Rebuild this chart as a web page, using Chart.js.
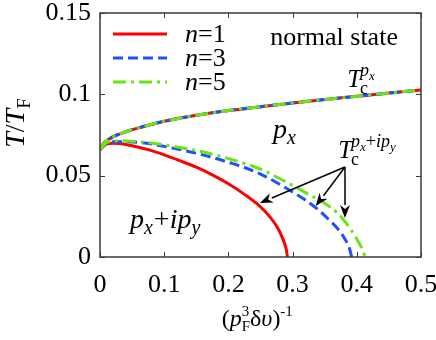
<!DOCTYPE html>
<html><head><meta charset="utf-8">
<script src="https://cdn.jsdelivr.net/npm/chart.js@4.4.1/dist/chart.umd.min.js"></script>
<style>html,body{margin:0;padding:0;background:#fff;}#wrap{width:436px;height:340px;}</style>
</head><body><div id="wrap"><canvas id="c" width="436" height="340"></canvas></div>
<script>
// ---- data ----
const xTicks = [0, 0.1, 0.2, 0.3, 0.4, 0.5];
const xTickLabels = ['0', '0.1', '0.2', '0.3', '0.4', '0.5'];
const yTicks = [0, 0.05, 0.1, 0.15];
const yTickLabels = ['0', '0.05', '0.1', '0.15'];
const seriesNames = ['1', '3', '5'];

// upper branch T_c^{px} (same for all n)
const upperX = [0, 0.005, 0.01, 0.02, 0.04, 0.06, 0.08, 0.10, 0.15, 0.20, 0.25, 0.30, 0.35, 0.40, 0.45, 0.50];
const upperY = [0.0660, 0.0695, 0.0713, 0.0738, 0.0770, 0.0794, 0.0815, 0.0834, 0.0871, 0.0900, 0.0924, 0.0947, 0.0968, 0.0988, 0.1008, 0.1027];

// lower branch T_c^{px+ipy}
const lowerX_n1 = [0, 0.01, 0.02, 0.03, 0.05, 0.075, 0.10, 0.125, 0.15, 0.175, 0.20, 0.225, 0.25, 0.265, 0.275, 0.285, 0.29, 0.292];
const lowerY_n1 = [0.0660, 0.0693, 0.0700, 0.0698, 0.0684, 0.0660, 0.0628, 0.0591, 0.0552, 0.0505, 0.0450, 0.0385, 0.0308, 0.0245, 0.0190, 0.0110, 0.0050, 0.0];
const lowerX_n3 = [0, 0.01, 0.02, 0.04, 0.06, 0.08, 0.10, 0.125, 0.15, 0.175, 0.20, 0.225, 0.25, 0.275, 0.30, 0.32, 0.34, 0.355, 0.37, 0.38, 0.388, 0.392];
const lowerY_n3 = [0.0660, 0.0700, 0.0708, 0.0708, 0.0704, 0.0695, 0.0680, 0.0660, 0.0638, 0.0612, 0.0582, 0.0550, 0.0510, 0.0458, 0.0400, 0.0350, 0.0290, 0.0235, 0.0175, 0.0120, 0.0060, 0.0];
const lowerX_n5 = [0, 0.01, 0.02, 0.03, 0.05, 0.075, 0.10, 0.125, 0.15, 0.175, 0.20, 0.225, 0.25, 0.275, 0.30, 0.325, 0.35, 0.37, 0.385, 0.40, 0.41, 0.413];
const lowerY_n5 = [0.0660, 0.0702, 0.0712, 0.0715, 0.0712, 0.0703, 0.0690, 0.0673, 0.0655, 0.0632, 0.0605, 0.0575, 0.0540, 0.0492, 0.0440, 0.0385, 0.0330, 0.0270, 0.0200, 0.0110, 0.0035, 0.0];

// arrow from label to the three curves (data coords)
const arrowFrom = [0.3816, 0.0553];
const arrowTipsX = [0.249, 0.336, 0.3816];
const arrowTipsY = [0.0332, 0.0313, 0.0240];

// ---- styles ----
const COLORS = ['rgb(255,0,0)', 'rgb(30,80,255)', 'rgb(105,228,20)'];
const DASHES = [[], [10, 5], [13, 5, 3, 5]];
const SERIF = '"Liberation Serif", "Times New Roman", serif';

const pts = (xs, ys) => xs.map((x, i) => ({ x: x, y: ys[i] }));
const lowers = [[lowerX_n1, lowerY_n1], [lowerX_n3, lowerY_n3], [lowerX_n5, lowerY_n5]];
const datasets = [];
seriesNames.forEach((n, i) => {
  const common = {
    borderColor: COLORS[i], backgroundColor: COLORS[i], borderWidth: 3,
    borderDash: DASHES[i], pointRadius: 0, showLine: true, fill: false,
    cubicInterpolationMode: 'monotone', order: 2 - i
  };
  datasets.push(Object.assign({ label: 'n=' + n, data: pts(upperX, upperY) }, common));
  datasets.push(Object.assign({ label: 'n=' + n + ' lower', data: pts(lowers[i][0], lowers[i][1]) }, common));
});

function setFont(ctx, f, s) { ctx.font = (f === 'i' ? 'italic ' : '') + s + 'px ' + SERIF; }
function measureParts(ctx, parts) {
  let w = 0;
  parts.forEach(p => {
    if (p.stack) {
      p.w = Math.max(measureParts(ctx, p.stack[0]), measureParts(ctx, p.stack[1]));
    } else { setFont(ctx, p.f, p.s); p.w = ctx.measureText(p.t).width; }
    w += p.w + (p.k || 0);
  });
  return w;
}
function drawParts(ctx, x, y, parts) {
  let cx = x;
  parts.forEach(p => {
    if (p.stack) { drawParts(ctx, cx, y, p.stack[0]); drawParts(ctx, cx, y, p.stack[1]); }
    else { setFont(ctx, p.f, p.s); ctx.fillText(p.t, cx, y + (p.dy || 0)); }
    cx += p.w + (p.k || 0);
  });
}
function rich(ctx, x, y, parts, align) {
  const w = measureParts(ctx, parts);
  drawParts(ctx, align === 'center' ? x - w / 2 : x, y, parts);
}

const decor = {
  id: 'decor',
  afterDatasetsDraw(chart) {
    const { ctx, chartArea: a, scales } = chart;
    const X = v => scales.x.getPixelForValue(v), Y = v => scales.y.getPixelForValue(v);
    ctx.save();
    // frame
    ctx.strokeStyle = '#3a3a3a'; ctx.lineWidth = 1.5; ctx.setLineDash([]);
    ctx.strokeRect(a.left, a.top, a.right - a.left, a.bottom - a.top);
    ctx.lineWidth = 1;
    ctx.beginPath();
    xTicks.forEach(v => { const px = Math.round(X(v)) + 0.5;
      ctx.moveTo(px, a.bottom); ctx.lineTo(px, a.bottom - 5);
      ctx.moveTo(px, a.top); ctx.lineTo(px, a.top + 5); });
    yTicks.forEach(v => { const py = Math.round(Y(v)) + 0.5;
      ctx.moveTo(a.left, py); ctx.lineTo(a.left + 5, py);
      ctx.moveTo(a.right, py); ctx.lineTo(a.right - 5, py); });
    ctx.stroke();

    ctx.fillStyle = '#000'; ctx.textBaseline = 'alphabetic'; ctx.textAlign = 'left';
    // legend
    seriesNames.forEach((n, i) => {
      const ly = a.top + 21 + i * 24;
      ctx.strokeStyle = COLORS[i]; ctx.lineWidth = 3; ctx.setLineDash(DASHES[i]);
      ctx.beginPath(); ctx.moveTo(a.left + 13, ly); ctx.lineTo(a.left + 67, ly); ctx.stroke();
      ctx.setLineDash([]);
      rich(ctx, a.left + 85, ly + 8, [{ t: 'n', f: 'i', s: 26 }, { t: '=' + n, f: 'r', s: 26 }]);
    });
    // annotations
    rich(ctx, X(0.265), Y(0.1303), [{ t: 'normal state', f: 'r', s: 26 }]);
    rich(ctx, X(0.385), Y(0.1047), [{ t: 'T', f: 'i', s: 25, k: -1 },
      { stack: [[{ t: 'c', f: 'r', s: 18, dy: 7 }], [{ t: 'p', f: 'i', s: 18, dy: -11 }, { t: 'x', f: 'i', s: 13, dy: -7 }]] }]);
    rich(ctx, X(0.2695), Y(0.0732), [{ t: 'p', f: 'i', s: 28 }, { t: 'x', f: 'i', s: 20, dy: 6 }]);
    rich(ctx, X(0.371), Y(0.0609), [{ t: 'T', f: 'i', s: 25, k: -1 },
      { stack: [[{ t: 'c', f: 'r', s: 18, dy: 7 }],
        [{ t: 'p', f: 'i', s: 18, dy: -11 }, { t: 'x', f: 'i', s: 13, dy: -7 }, { t: '+', f: 'r', s: 18, dy: -11 },
         { t: 'ip', f: 'i', s: 18, dy: -11 }, { t: 'y', f: 'i', s: 13, dy: -7 }]] }]);
    rich(ctx, X(0.0467), Y(0.0178), [{ t: 'p', f: 'i', s: 28 }, { t: 'x', f: 'i', s: 20, dy: 6, k: 1 },
      { t: '+', f: 'r', s: 28 }, { t: 'ip', f: 'i', s: 28 }, { t: 'y', f: 'i', s: 20, dy: 6 }]);
    // arrows
    ctx.strokeStyle = '#000'; ctx.fillStyle = '#000'; ctx.lineWidth = 1.5;
    const sx = X(arrowFrom[0]), sy = Y(arrowFrom[1]);
    arrowTipsX.forEach((tx, i) => {
      const ex = X(tx), ey = Y(arrowTipsY[i]);
      const ang = Math.atan2(ey - sy, ex - sx), L = 13, W = 5;
      const bx = ex - L * Math.cos(ang), by = ey - L * Math.sin(ang);
      ctx.beginPath(); ctx.moveTo(sx, sy); ctx.lineTo(bx, by); ctx.stroke();
      ctx.beginPath(); ctx.moveTo(ex, ey);
      ctx.lineTo(bx + W * Math.sin(ang), by - W * Math.cos(ang));
      ctx.lineTo(bx + 4 * Math.cos(ang), by + 4 * Math.sin(ang));
      ctx.lineTo(bx - W * Math.sin(ang), by + W * Math.cos(ang));
      ctx.closePath(); ctx.fill();
    });
    // axis titles
    ctx.fillStyle = '#000';
    rich(ctx, X(0.245), 326, [{ t: '(', f: 'r', s: 24 }, { t: 'p', f: 'i', s: 24 },
      { stack: [[{ t: 'F', f: 'r', s: 15, dy: 5 }], [{ t: '3', f: 'r', s: 15, dy: -10 }]] },
      { t: 'δ', f: 'r', s: 24 }, { t: 'υ', f: 'i', s: 24 }, { t: ')', f: 'r', s: 24 }, { t: '-1', f: 'r', s: 15, dy: -10 }], 'center');
    ctx.save(); ctx.translate(24, (a.top + a.bottom) / 2 - 12); ctx.rotate(-Math.PI / 2);
    rich(ctx, 0, 0, [{ t: 'T', f: 'i', s: 28 }, { t: '/', f: 'r', s: 28 }, { t: 'T', f: 'i', s: 28 },
      { t: 'F', f: 'r', s: 19, dy: 6 }], 'center');
    ctx.restore();
    ctx.restore();
  }
};

new Chart(document.getElementById('c'), {
  type: 'scatter',
  data: { datasets: datasets },
  options: {
    responsive: false, animation: false, devicePixelRatio: 1,
    layout: { padding: { left: 0, top: 13, right: 15, bottom: 0 } },
    plugins: { legend: { display: false }, tooltip: { enabled: false } },
    scales: {
      x: {
        type: 'linear', min: 0, max: 0.5,
        afterBuildTicks: s => { s.ticks = xTicks.map(v => ({ value: v })); },
        afterFit: s => { s.height = 83; s.paddingLeft = 0; s.paddingRight = 0; },
        grid: { display: false, drawTicks: false }, border: { display: false },
        ticks: { padding: 13, color: '#000', font: { family: SERIF, size: 26 }, maxRotation: 0,
          callback: v => xTickLabels[xTicks.findIndex(t => Math.abs(t - v) < 1e-9)] }
      },
      y: {
        type: 'linear', min: 0, max: 0.15,
        afterBuildTicks: s => { s.ticks = yTicks.map(v => ({ value: v })); },
        afterFit: s => { s.width = 100; s.paddingTop = 0; s.paddingBottom = 0; },
        grid: { display: false, drawTicks: false }, border: { display: false },
        ticks: { padding: 9, color: '#000', font: { family: SERIF, size: 26 },
          callback: v => yTickLabels[yTicks.findIndex(t => Math.abs(t - v) < 1e-9)] }
      }
    }
  },
  plugins: [decor]
});
</script></body></html>
